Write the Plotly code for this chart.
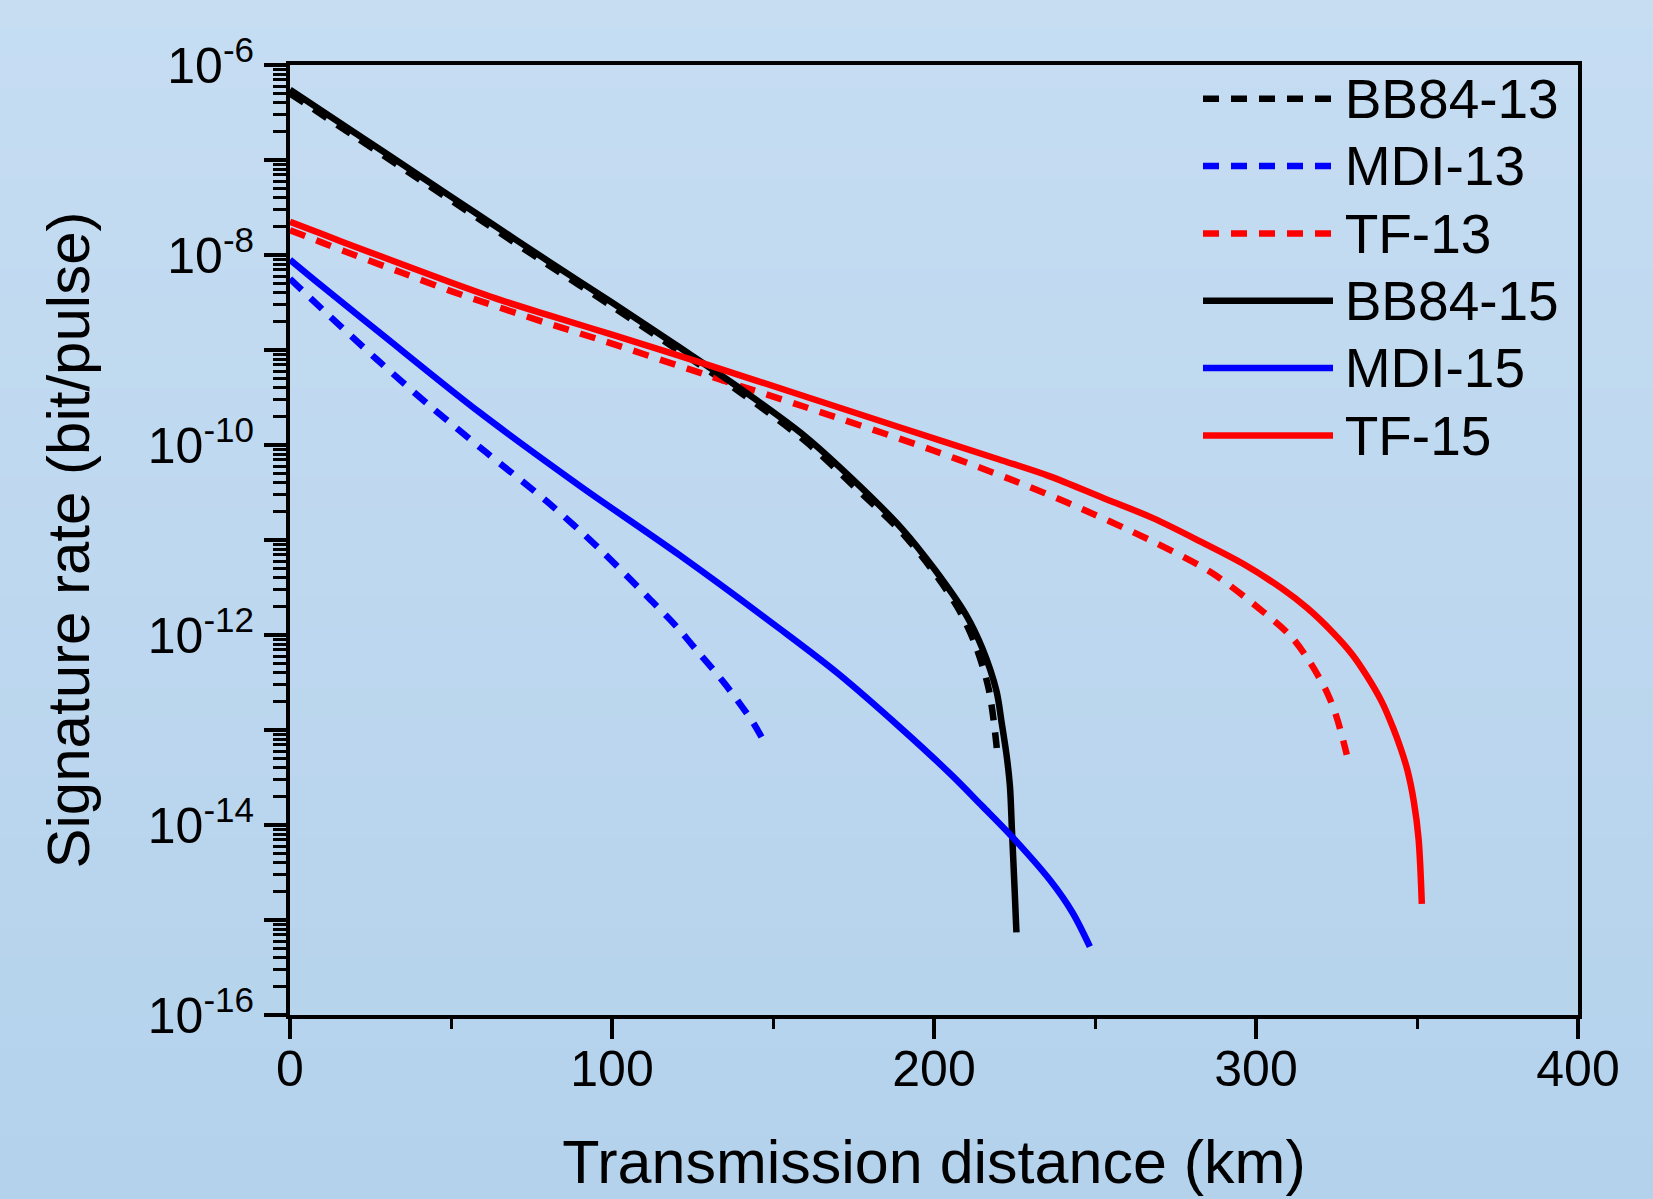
import plotly.graph_objects as go

# ---------------- data ----------------
dist_bb84_13 = [0, 20, 40, 60, 80, 100, 120, 140, 160, 175, 190, 200, 208, 213, 217, 219.5]
rate_bb84_13 = [5.01e-7, 1.78e-7, 6.31e-8, 2.24e-8, 7.94e-9, 2.88e-9, 1.02e-9, 3.55e-10,
                1.10e-10, 3.72e-11, 1.20e-11, 4.57e-12, 1.78e-12, 7.59e-13, 2.69e-13, 6.46e-14]

dist_mdi_13 = [0, 10, 27, 43.5, 61, 80, 96, 112, 120, 127, 134.5, 140.7, 144, 147.5]
rate_mdi_13 = [5.62e-9, 2.69e-9, 7.94e-10, 2.57e-10, 8.32e-11, 2.51e-11, 8.13e-12, 2.34e-12,
               1.23e-12, 6.46e-13, 3.24e-13, 1.70e-13, 1.17e-13, 7.24e-14]

dist_tf_13 = [0, 10, 20, 35, 50, 80, 96, 130, 160, 200, 223.6, 241, 267, 286, 302, 311, 317, 322, 325, 328.2]
rate_tf_13 = [1.82e-8, 1.35e-8, 1.00e-8, 6.46e-9, 4.17e-9, 1.91e-9, 1.29e-9, 5.37e-10, 2.51e-10,
              8.71e-11, 4.37e-11, 2.51e-11, 1.00e-11, 4.57e-12, 1.78e-12, 9.55e-13, 5.01e-13,
              2.51e-13, 1.38e-13, 5.50e-14]

dist_bb84_15 = [0, 20, 40, 60, 80, 100, 120, 140, 160, 175, 190, 200, 210, 215, 219.4, 221.0,
                222.6, 223.6, 224.2, 225.0, 225.6]
rate_bb84_15 = [5.50e-7, 1.95e-7, 6.92e-8, 2.45e-8, 8.71e-9, 3.16e-9, 1.12e-9, 3.89e-10, 1.23e-10,
                4.27e-11, 1.32e-11, 5.01e-12, 1.62e-12, 7.24e-13, 2.57e-13, 1.20e-13,
                5.25e-14, 2.51e-14, 8.91e-15, 2.24e-15, 7.41e-16]

dist_mdi_15 = [0, 10, 28, 59, 90, 121, 152, 170, 189.4, 205, 215, 223.6, 236, 243, 248.4]
rate_mdi_15 = [8.91e-9, 4.68e-9, 1.51e-9, 2.19e-10, 3.72e-11, 6.92e-12, 1.17e-12, 3.98e-13,
               1.07e-13, 3.47e-14, 1.58e-14, 7.94e-15, 2.63e-15, 1.20e-15, 5.25e-16]

dist_tf_15 = [0, 10, 20, 35, 50, 65, 80, 100, 130, 160, 190, 220, 236, 252, 268, 283, 296, 308,
              316, 324, 330, 334.4, 339, 342.6, 345, 347, 349, 350.5, 351.5]
rate_tf_15 = [2.24e-8, 1.66e-8, 1.23e-8, 7.94e-9, 5.13e-9, 3.39e-9, 2.34e-9, 1.45e-9, 6.92e-10,
              3.24e-10, 1.51e-10, 7.08e-11, 4.68e-11, 2.82e-11, 1.70e-11, 9.55e-12, 5.62e-12,
              3.09e-12, 1.91e-12, 1.05e-12, 6.17e-13, 3.72e-13, 2.00e-13, 1.05e-13, 6.31e-14,
              3.80e-14, 1.78e-14, 7.08e-15, 1.48e-15]

series_names = ["BB84-13", "MDI-13", "TF-13", "BB84-15", "MDI-15", "TF-15"]
x_tick_vals = [0, 100, 200, 300, 400]
y_exponents = list(range(-16, -5))
y_labelled = [-16, -14, -12, -10, -8, -6]

# ---------------- styling ----------------
W, H = 1653, 1199
ML, MR, MT, MB = 290, 75, 65, 184
FONT = "Liberation Sans, Arial, sans-serif"
DASH = "16px,12px"
LW = 6.5

series = [
    (dist_bb84_13, rate_bb84_13, "#000000", DASH),
    (dist_mdi_13, rate_mdi_13, "#0000ff", DASH),
    (dist_tf_13, rate_tf_13, "#ff0000", DASH),
    (dist_bb84_15, rate_bb84_15, "#000000", "solid"),
    (dist_mdi_15, rate_mdi_15, "#0000ff", "solid"),
    (dist_tf_15, rate_tf_15, "#ff0000", "solid"),
]

fig = go.Figure()
for name, (xs, ys, col, dash) in zip(series_names, series):
    label = '<span style="font-size:24px">\u00a0</span><span style="font-size:55px">%s</span>' % name
    fig.add_trace(go.Scatter(
        x=xs, y=ys, mode="lines", name=label,
        line=dict(color=col, width=LW, dash=dash, shape="spline", smoothing=0.9),
    ))

# background gradient (paper coordinates covering the whole page)
pw, ph = W - ML - MR, H - MT - MB
x0p, x1p = -ML / pw, (W - ML) / pw
top_c, bot_c = (198, 221, 242), (180, 210, 236)
nb = 40
for i in range(nb):
    f = (i + 0.5) / nb
    c = tuple(round(top_c[k] + (bot_c[k] - top_c[k]) * f) for k in range(3))
    ya = (H - MB - (i * H / nb)) / ph
    yb = (H - MB - ((i + 1) * H / nb)) / ph
    fig.add_shape(type="rect", xref="paper", yref="paper", x0=x0p, x1=x1p,
                  y0=yb - 0.002, y1=ya + 0.002, line_width=0,
                  fillcolor="rgb(%d,%d,%d)" % c, layer="below")

y_tickvals = [10.0 ** e for e in y_exponents]
y_ticktext = [("10<sup>%d</sup>" % e) if e in y_labelled else "" for e in y_exponents]
y_minor = [k * 10.0 ** e for e in y_exponents[:-1] for k in range(2, 10)]

fig.update_layout(
    width=W, height=H,
    margin=dict(l=ML, r=MR, t=MT, b=MB, autoexpand=False),
    paper_bgcolor="rgb(189,215,239)",
    plot_bgcolor="rgba(0,0,0,0)",
    font=dict(family=FONT, color="#000000", size=50),
    showlegend=True,
    legend=dict(
        x=(1198 - ML) / pw, y=1.0 + 5 / ph, xanchor="left", yanchor="top",
        bgcolor="rgba(0,0,0,0)", borderwidth=0,
        font=dict(family=FONT, size=49.5, color="#000000"),
        itemwidth=130, tracegroupgap=0,
    ),
    xaxis=dict(
        range=[0, 400], tickmode="array", tickvals=x_tick_vals,
        ticktext=[str(v) for v in x_tick_vals],
        showgrid=False, zeroline=False,
        showline=True, linecolor="#000000", linewidth=4, mirror=True,
        ticks="outside", ticklen=20, tickwidth=4, tickcolor="#000000",
        tickfont=dict(family=FONT, size=50), ticklabelstandoff=-13,
        minor=dict(dtick=50, tick0=0, ticks="outside", ticklen=10, tickwidth=3,
                   tickcolor="#000000", showgrid=False),
        title=dict(text="Transmission distance (km)", font=dict(family=FONT, size=61), standoff=45),
    ),
    yaxis=dict(
        type="log", range=[-16, -6], tickmode="array",
        tickvals=y_tickvals, ticktext=y_ticktext,
        showgrid=False, zeroline=False,
        showline=True, linecolor="#000000", linewidth=4, mirror=True,
        ticks="outside", ticklen=22, tickwidth=4, tickcolor="#000000",
        tickfont=dict(family=FONT, size=50),
        minor=dict(tickmode="array", tickvals=y_minor, ticks="outside", ticklen=13,
                   tickwidth=3, tickcolor="#000000", showgrid=False),
        title=dict(text="Signature rate (bit/pulse)", font=dict(family=FONT, size=60), standoff=40),
    ),
)

fig.write_html("out.html", config={"displayModeBar": False},
               post_script="document.body.style.margin='0';document.body.style.overflow='hidden';")
